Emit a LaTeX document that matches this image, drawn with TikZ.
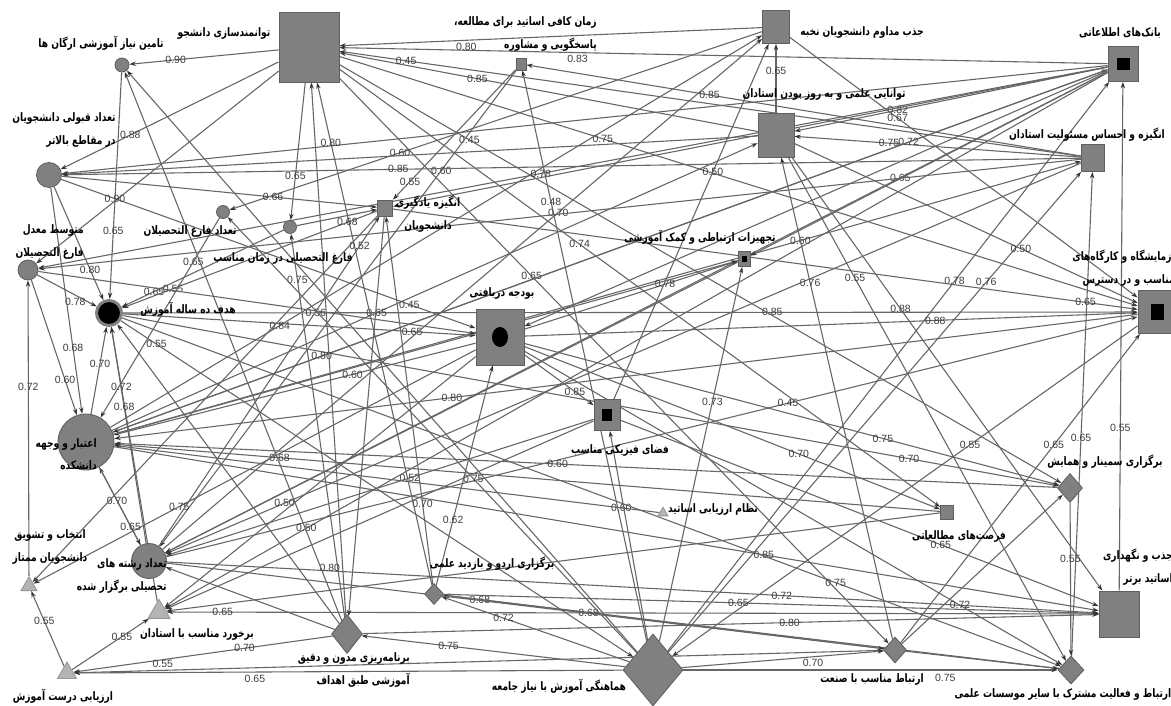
\documentclass[tikz,border=0pt]{standalone}
\usepackage{fontspec}
\usetikzlibrary{arrows.meta,shapes.geometric}
\TeXXeTstate=1
\newfontfamily\prsfont[Script=Arabic,FakeStretch=0.78]{DejaVu Sans}
\newfontfamily\numfont{Liberation Sans}
\newcommand\prs[1]{\beginR #1\endR}
\definecolor{ng}{RGB}{128,128,128}
\definecolor{nb}{RGB}{95,95,95}
\definecolor{tg}{RGB}{180,180,180}
\definecolor{tb}{RGB}{150,150,150}
\definecolor{eg}{RGB}{102,102,102}
\definecolor{numc}{RGB}{60,60,60}
\pgfdeclarelayer{bg}
\pgfsetlayers{bg,main}
\begin{document}
\begin{tikzpicture}[x=0.6pt,y=-0.6pt,
  sq/.style={rectangle,draw=nb,fill=ng,line width=0.5pt,inner sep=0pt},
  ci/.style={circle,draw=nb,fill=ng,line width=0.5pt,inner sep=0pt},
  dm/.style={diamond,draw=nb,fill=ng,line width=0.5pt,inner sep=0pt},
  tri/.style={regular polygon,regular polygon sides=3,draw=tb,fill=tg,line width=0.5pt,inner sep=0pt},
  blk/.style={rectangle,fill=black,inner sep=0pt},
  ed/.style={draw=eg,line width=0.65pt,-{Stealth[length=3.8pt,width=2.6pt,color=black!80]}},
  lb/.style={font=\numfont\fontsize{6.3}{7}\selectfont,text=numc,inner sep=0.3pt},
  ptx/.style={font=\prsfont\bfseries\fontsize{7}{13.5}\selectfont,inner sep=0pt,text=black}]
\useasboundingbox (0,0) rectangle (1171,706);
\begin{pgfonlayer}{bg}
\fill[white] (0,0) rectangle (1171,706);
\end{pgfonlayer}
% nodes
\node[sq,minimum width=36pt,minimum height=42pt] (n1) at (309,47) {};
\node[ci,minimum size=8.4pt] (n2) at (122,65) {};
\node[ci,minimum size=15pt] (n3) at (49,175) {};
\node[ci,minimum size=12pt] (n4) at (28,270) {};
\node[circle,fill=black,draw=ng,line width=1.8pt,minimum size=15pt,inner sep=0pt] (n5) at (109,313) {};
\node[ci,minimum size=33.6pt] (n6) at (86,442) {};
\node[ci,minimum size=7.8pt] (n7) at (223,212) {};
\node[ci,minimum size=7.8pt] (n8) at (290,227) {};
\node[sq,minimum width=9pt,minimum height=9.6pt] (n9) at (385,208) {};
\node[sq,minimum width=6pt,minimum height=7.2pt] (n10) at (521,64) {};
\node[sq,minimum width=16.2pt,minimum height=19.8pt] (n11) at (776,27) {};
\node[sq,minimum width=21.6pt,minimum height=26.4pt] (n12) at (776,135) {};
\node[sq,minimum width=18pt,minimum height=21pt] (n13) at (1123,64) {};
\node[blk,minimum width=7.8pt,minimum height=7.2pt] (n13i) at (n13) {};
\node[sq,minimum width=13.8pt,minimum height=16.2pt] (n14) at (1093,158) {};
\node[sq,minimum width=7.2pt,minimum height=9pt] (n15) at (744,259) {};
\node[blk,minimum width=3pt,minimum height=3.6pt] (n15i) at (n15) {};
\node[sq,minimum width=28.8pt,minimum height=33.6pt] (n16) at (500,337) {};
\node[ellipse,fill=black,inner sep=0pt,minimum width=9.6pt,minimum height=12pt] (n16i) at (n16) {};
\node[sq,minimum width=15.6pt,minimum height=18.6pt] (n17) at (607,415) {};
\node[blk,minimum width=6pt,minimum height=7.2pt] (n17i) at (n17) {};
\node[sq,minimum width=22.8pt,minimum height=25.8pt] (n18) at (1157,312) {};
\node[blk,minimum width=7.8pt,minimum height=9.6pt] (n18i) at (n18) {};
\node[dm,minimum width=15pt,minimum height=17.4pt] (n19) at (1070,488) {};
\node[sq,minimum width=7.8pt,minimum height=8.4pt] (n20) at (947,512) {};
\node[sq,minimum width=24pt,minimum height=27.6pt] (n21) at (1119,614) {};
\node[dm,minimum width=15.6pt,minimum height=16.8pt] (n22) at (1071,670) {};
\node[dm,minimum width=13.8pt,minimum height=15.6pt] (n23) at (895,650) {};
\node[dm,minimum width=36pt,minimum height=43.2pt] (n24) at (653,670) {};
\node[tri,minimum size=6.9pt] (n25) at (663,513) {};
\node[dm,minimum width=11.4pt,minimum height=12.6pt] (n26) at (434,594) {};
\node[dm,minimum width=18.6pt,minimum height=23.4pt] (n27) at (347,634) {};
\node[tri,minimum size=15.2pt] (n28) at (159,612) {};
\node[tri,minimum size=13.2pt] (n29) at (67,673) {};
\node[tri,minimum size=11.1pt] (n30) at (29,586) {};
\node[ci,minimum size=21pt] (n31) at (149,561) {};
% texts
\node[ptx] (t1) at (224,33) {\prs{توانمندسازی دانشجو}};
\node[ptx] (t2) at (101,43) {\prs{تامین نیاز آموزشی ارگان ها}};
\node[ptx,anchor=east,align=right] (t3) at (116,130) {\prs{تعداد قبولی دانشجویان}\\\prs{در مقاطع بالاتر}};
\node[ptx,anchor=east,align=right] (t4) at (84,242) {\prs{متوسط معدل}\\\prs{فارغ التحصیلان}};
\node[ptx] (t5) at (188,309) {\prs{هدف ده ساله آموزش}};
\node[ptx,anchor=east,align=right] (t6) at (97,454) {\prs{اعتبار و وجهه}\\\prs{دانشکده}};
\node[ptx] (t7) at (190,231) {\prs{تعداد فارغ التحصیلان}};
\node[ptx] (t8) at (283,258) {\prs{فارغ التحصیلی در زمان مناسب}};
\node[ptx,align=center] (t9) at (428,214) {\prs{انگیزه یادگیری}\\\prs{دانشجویان}};
\node[ptx,anchor=east,align=right] (t10) at (597,34) {\prs{زمان کافی اساتید برای مطالعه،}\\\prs{پاسخگویی و مشاوره}};
\node[ptx] (t11) at (862,32) {\prs{جذب مداوم دانشجویان نخبه}};
\node[ptx] (t12) at (824,94) {\prs{توانایی علمی و به روز بودن استادان}};
\node[ptx] (t13) at (1120,33) {\prs{بانک‌های اطلاعاتی}};
\node[ptx] (t14) at (1087,135) {\prs{انگیزه و احساس مسئولیت استادان}};
\node[ptx] (t15) at (700,237) {\prs{تجهیزات ارتباطی و کمک آموزشی}};
\node[ptx] (t16) at (502,293) {\prs{بودجه دریافتی}};
\node[ptx] (t17) at (620,450) {\prs{فضای فیزیکی مناسب}};
\node[ptx,anchor=east,align=right] (t18) at (1175,268) {\prs{آزمایشگاه و کارگاه‌های}\\\prs{مناسب و در دسترس}};
\node[ptx] (t19) at (1105,462) {\prs{برگزاری سمینار و همایش}};
\node[ptx] (t20) at (959,536) {\prs{فرصت‌های مطالعاتی}};
\node[ptx,anchor=east,align=right] (t21) at (1173,567) {\prs{جذب و نگهداری}\\\prs{اساتید برتر}};
\node[ptx] (t22) at (1063,694) {\prs{ارتباط و فعالیت مشترک با سایر موسسات علمی}};
\node[ptx] (t23) at (872,679) {\prs{ارتباط مناسب با صنعت}};
\node[ptx] (t24) at (559,686) {\prs{هماهنگی آموزش با نیاز جامعه}};
\node[ptx] (t25) at (713,509) {\prs{نظام ارزیابی اساتید}};
\node[ptx] (t26) at (492,564) {\prs{برگزاری اردو و بازدید علمی}};
\node[ptx,anchor=east,align=right] (t27) at (410,670) {\prs{برنامه‌ریزی مدون و دقیق}\\\prs{آموزشی طبق اهداف}};
\node[ptx] (t28) at (197,634) {\prs{برخورد مناسب با استادان}};
\node[ptx] (t29) at (63,696) {\prs{ارزیابی درست آموزش}};
\node[ptx,align=center] (t30) at (50,547) {\prs{انتخاب و تشویق}\\\prs{دانشجویان ممتاز}};
\node[ptx,anchor=east,align=right] (t31) at (167,576) {\prs{تعداد رشته های}\\\prs{تحصیلی برگزار شده}};
% edges
\begin{pgfonlayer}{bg}
\draw[ed] (n1) -- (n2) node[lb,pos=.69]{0.90};
\draw[ed] (n1) -- (n3) node[lb,pos=.68]{0.88};
\draw[ed] (n1) -- (n4);
\draw[ed] (n1) -- (n8) node[lb,pos=.68]{0.65};
\draw[ed] (n12) -- (n1) node[lb,pos=.67]{0.85};
\draw[ed] (n14) -- (n1) node[lb,pos=.91]{0.45};
\draw[ed] (n11) -- (n1) node[lb,pos=.70,below=1pt]{0.80};
\draw[ed] (n13) -- (n1) node[lb,pos=.69,below=1pt]{0.83};
\draw[ed] (n14) -- (n10) node[lb,pos=.67]{0.85};
\draw[ed] (n12) -- (n11) node[lb,pos=.6]{0.65};
\draw[ed] (n13) -- (n12) node[lb,pos=.67]{0.82};
\draw[ed] (n14) -- (n12) node[lb,pos=.67]{0.75};
\draw[ed] (n11) -- (n18) node[lb,pos=.31]{0.67};
\draw[ed] (n6) -- (n13) node[lb,pos=.80]{0.72};
\draw[ed] (n13) -- (n31) node[lb,pos=.22]{0.65};
\draw[ed] (n6) -- (n14) node[lb,pos=.71]{0.60};
\draw[ed] (n23) -- (n12) node[lb,pos=.74]{0.76};
\draw[ed] (n12) -- (n21) node[lb,pos=.35]{0.88};
\draw[ed] (n12) -- (n22) node[lb,pos=.24]{0.55};
\draw[ed] (n24) -- (n14) node[lb,pos=.77]{0.76};
\draw[ed] (n24) -- (n13) node[lb,pos=.65]{0.78};
\draw[ed] (n12) -- (n18) node[lb,pos=.66]{0.50};
\draw[ed] (n16) -- (n18) node[lb,pos=.67]{0.88};
\draw[ed] (n5) -- (n18) node[lb,pos=.64]{0.85} node[lb,pos=.19]{0.56};
\draw[ed] (n9) -- (n18) node[lb,pos=.93]{0.65};
\draw[ed] (n31) -- (n18) node[lb,pos=.64]{0.45};
\draw[ed] (n18) -- (n24) node[lb,pos=.36]{0.55};
\draw[ed] (n23) -- (n18) node[lb,pos=.64]{0.65};
\draw[ed] (n21) -- (n13) node[lb,pos=.32]{0.55};
\draw[ed] (n22) -- (n14) node[lb,pos=.45]{0.65};
\draw[ed] (n16) -- (n19) node[lb,pos=.67]{0.75};
\draw[ed] (n16) -- (n20) node[lb,pos=.66]{0.70};
\draw[ed] (n5) -- (n19) node[lb,pos=.84]{0.70};
\draw[ed] (n24) -- (n15) node[lb,pos=.64]{0.73};
\draw[ed] (n16) -- (n15) node[lb,pos=.66]{0.78};
\draw[ed] (n1) -- (n20) node[lb,pos=.40]{0.74};
\draw[ed] (n1) -- (n23) node[lb,pos=.35]{0.65};
\draw[ed] (n1) -- (n19) node[lb,pos=.18]{0.45};
\draw[ed] (n1) -- (n18) node[lb,pos=.33]{0.75};
\draw[ed] (n5) -- (n16) node[lb,pos=.82]{0.65};
\draw[ed] (n3) -- (n16) node[lb,pos=.84]{0.45};
\draw[ed] (n16) -- (n17) node[lb,pos=.73]{0.85};
\draw[ed] (n18) -- (n6) node[lb,pos=.67]{0.80};
\draw[ed] (n19) -- (n6) node[lb,pos=.53]{0.60};
\draw[ed] (n20) -- (n6) node[lb,pos=.80]{0.68};
\draw[ed] (n13) -- (n6) node[lb,pos=.79]{0.80};
\draw[ed] (n16) -- (n6) node[lb,pos=.34]{0.60};
\draw[ed] (n17) -- (n31) node[lb,pos=.43]{0.52};
\draw[ed] (n6) -- (n11) node[lb,pos=.26]{0.84};
\draw[ed] (n24) -- (n10) node[lb,pos=.77]{0.48};
\draw[ed] (n31) -- (n11) node[lb,pos=.66]{0.70};
\draw[ed] (n17) -- (n11) node[lb,pos=.64]{0.50};
\draw[ed] (n10) -- (n31) node[lb,pos=.21]{0.60};
\draw[ed] (n10) -- (n9) node[lb,pos=.86]{0.55};
\draw[ed] (n11) -- (n7) node[lb,pos=.68]{0.60};
\draw[ed] (n14) -- (n3) node[lb,pos=.67]{0.85};
\draw[ed] (n13) -- (n3);
\draw[ed] (n12) -- (n3);
\draw[ed] (n3) -- (n9) node[lb,pos=.67]{0.66};
\draw[ed] (n13) -- (n4) node[lb,pos=.53]{0.78};
\draw[ed] (n3) -- (n5) node[lb,pos=.73]{0.80};
\draw[ed] (n4) -- (n5) node[lb,pos=.64,below=1pt]{0.78};
\draw[ed] (n8) -- (n5) node[lb,pos=.80]{0.65};
\draw[ed] (n9) -- (n5) node[lb,pos=.80]{0.55};
\draw[ed] (n7) -- (n6) node[lb,pos=.22]{0.65};
\draw[ed] (n27) -- (n8) node[lb,pos=.88]{0.75};
\draw[ed] (n4) -- (n16);
\draw[ed] (n5) -- (n24) node[lb,pos=.07]{0.55};
\draw[ed] (n6) -- (n12) node[lb,pos=.41]{0.65};
\draw[ed] (n3) -- (n6) node[lb,pos=.71]{0.68};
\draw[ed] (n6) -- (n5) node[lb,pos=.58]{0.70};
\draw[ed] (n31) -- (n5) node[lb,pos=.63]{0.68};
\draw[ed] (n28) -- (n5) node[lb,pos=.78]{0.72};
\draw[ed] (n4) -- (n6) node[lb,pos=.74]{0.60};
\draw[ed] (n30) -- (n4) node[lb,pos=.64]{0.72};
\draw[ed] (n31) -- (n6) node[lb,pos=.57]{0.70};
\draw[ed] (n16) -- (n30) node[lb,pos=.67]{0.75};
\draw[ed] (n6) -- (n31) node[lb,pos=.76]{0.65};
\draw[ed] (n14) -- (n31) node[lb,pos=.87]{0.50};
\draw[ed] (n13) -- (n28) node[lb,pos=.85]{0.50};
\draw[ed] (n21) -- (n28) node[lb,pos=.94]{0.65};
\draw[ed] (n29) -- (n30) node[lb,pos=.6]{0.55};
\draw[ed] (n29) -- (n28) node[lb,pos=.65]{0.55};
\draw[ed] (n27) -- (n29) node[lb,pos=.34]{0.70};
\draw[ed] (n24) -- (n29) node[lb,pos=.67,below=1pt]{0.65};
\draw[ed] (n23) -- (n29) node[lb,pos=.89,above=1pt]{0.55};
\draw[ed] (n24) -- (n27) node[lb,pos=.67]{0.75};
\draw[ed] (n24) -- (n26) node[lb,pos=.67]{0.72};
\draw[ed] (n22) -- (n26) node[lb,pos=.94]{0.68};
\draw[ed] (n23) -- (n26) node[lb,pos=.67]{0.68};
\draw[ed] (n26) -- (n9) node[lb,pos=.22]{0.70};
\draw[ed] (n26) -- (n16) node[lb,pos=.30]{0.62};
\draw[ed] (n26) -- (n1) node[lb,pos=.88]{0.80};
\draw[ed] (n24) -- (n7) node[lb,pos=.40]{0.75};
\draw[ed] (n25) -- (n6) node[lb,pos=.07]{0.60};
\draw[ed] (n6) -- (n21) node[lb,pos=.66]{0.85};
\draw[ed] (n26) -- (n21) node[lb,pos=.45]{0.65};
\draw[ed] (n31) -- (n21) node[lb,pos=.66]{0.72};
\draw[ed] (n27) -- (n21) node[lb,pos=.58]{0.80};
\draw[ed] (n17) -- (n21) node[lb,pos=.67]{0.65};
\draw[ed] (n16) -- (n22) node[lb,pos=.81]{0.72};
\draw[ed] (n5) -- (n22) node[lb,pos=.76]{0.75};
\draw[ed] (n24) -- (n23) node[lb,pos=.65,below=1pt]{0.70};
\draw[ed] (n24) -- (n22) node[lb,pos=.70,below=2pt]{0.75};
\draw[ed] (n23) -- (n22);
\draw[ed] (n19) -- (n22) node[lb,pos=.37]{0.55};
\draw[ed] (n27) -- (n1) node[lb,pos=.09,left=1pt]{0.80};
\draw[ed] (n8) -- (n9) node[lb,pos=.63,below=1pt]{0.68};
\draw[ed] (n31) -- (n9) node[lb,pos=.91]{0.52};
\draw[ed] (n2) -- (n5) node[lb,pos=.56]{0.90} node[lb,pos=.70]{0.65};
\draw[ed] (n24) -- (n2);
\draw[ed] (n27) -- (n2);
\draw[ed] (n9) -- (n30);
\draw[ed] (n9) -- (n27);
\draw[ed] (n13) -- (n16);
\draw[ed] (n13) -- (n15);
\draw[ed] (n13) -- (n9);
\draw[ed] (n6) -- (n15);
\draw[ed] (n15) -- (n31);
\draw[ed] (n24) -- (n17);
\draw[ed] (n31) -- (n23);
\draw[ed] (n23) -- (n19);
\draw[ed] (n20) -- (n28);
\draw[ed] (n17) -- (n28);
\draw[ed] (n16) -- (n28);
\draw[ed] (n27) -- (n31);
\draw[ed] (n27) -- (n5);
\draw[ed] (n14) -- (n4);
\end{pgfonlayer}
\end{tikzpicture}
\end{document}
